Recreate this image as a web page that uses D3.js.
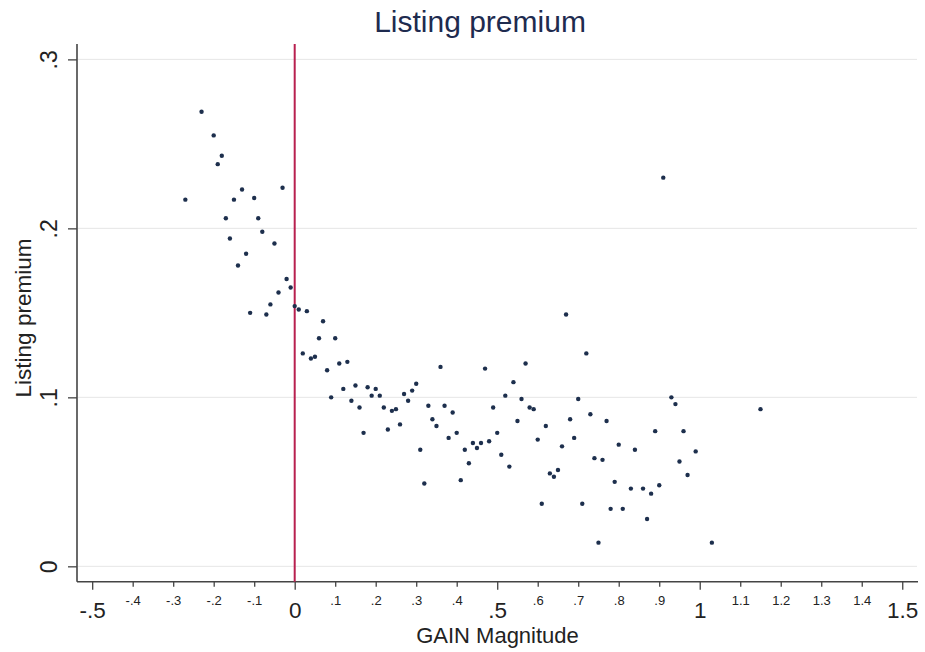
<!DOCTYPE html>
<html>
<head>
  <meta charset='utf-8'>
  <title>Listing premium</title>
  <script src='https://cdn.jsdelivr.net/npm/d3@7/dist/d3.min.js'></script>
  <style type='text/css'>
    body { margin: 0; background: #fff; }
    svg text { font-family: 'Liberation Sans', Arial, sans-serif; }
  </style>
</head>
<body>
  <div id='plot-container'></div>
  <script>
    // binned scatter values
    const gainMagnitude = [
        -0.23, -0.20, -0.18, -0.19, -0.13, -0.03, -0.27, -0.15, -0.10, -0.17,
        -0.09, -0.08, -0.16, -0.05, -0.12, -0.14, -0.02, -0.01, -0.04, -0.06,
        -0.11, -0.07, 0.00, 0.01, 0.03, 0.07, 0.06, 0.10, 0.02, 0.04,
        0.05, 0.08, 0.11, 0.13, 0.12, 0.09, 0.15, 0.14, 0.18, 0.20,
        0.19, 0.21, 0.16, 0.17, 0.22, 0.24, 0.25, 0.23, 0.26, 0.27,
        0.28, 0.29, 0.30, 0.36, 0.33, 0.37, 0.34, 0.35, 0.39, 0.38,
        0.40, 0.31, 0.32, 0.41, 0.67, 0.72, 0.47, 0.57, 0.54, 0.52,
        0.56, 0.70, 0.49, 0.58, 0.59, 0.73, 0.55, 0.68, 0.77, 0.62,
        0.50, 0.60, 0.69, 0.44, 0.46, 0.48, 0.45, 0.42, 0.66, 0.80,
        0.51, 0.43, 0.53, 0.74, 0.76, 0.63, 0.64, 0.65, 0.79, 0.61,
        0.71, 0.78, 0.91, 0.93, 0.94, 1.15, 0.89, 0.96, 0.84, 0.99,
        0.95, 0.97, 0.90, 0.83, 0.86, 0.88, 0.81, 0.87, 0.75, 1.03
    ];
    const listingPremium = [
        0.269, 0.255, 0.243, 0.238, 0.223, 0.224, 0.217, 0.217, 0.218, 0.206,
        0.206, 0.198, 0.194, 0.191, 0.185, 0.178, 0.170, 0.165, 0.162, 0.155,
        0.150, 0.149, 0.154, 0.152, 0.151, 0.145, 0.135, 0.135, 0.126, 0.123,
        0.124, 0.116, 0.120, 0.121, 0.105, 0.100, 0.107, 0.098, 0.106, 0.105,
        0.101, 0.101, 0.094, 0.079, 0.094, 0.092, 0.093, 0.081, 0.084, 0.102,
        0.098, 0.104, 0.108, 0.118, 0.095, 0.095, 0.087, 0.083, 0.091, 0.076,
        0.079, 0.069, 0.049, 0.051, 0.149, 0.126, 0.117, 0.120, 0.109, 0.101,
        0.099, 0.099, 0.094, 0.094, 0.093, 0.090, 0.086, 0.087, 0.086, 0.083,
        0.079, 0.075, 0.076, 0.073, 0.073, 0.074, 0.070, 0.069, 0.071, 0.072,
        0.066, 0.061, 0.059, 0.064, 0.063, 0.055, 0.053, 0.057, 0.050, 0.037,
        0.037, 0.034, 0.230, 0.100, 0.096, 0.093, 0.080, 0.080, 0.069, 0.068,
        0.062, 0.054, 0.048, 0.046, 0.046, 0.043, 0.034, 0.028, 0.014, 0.014
    ];
    const majorXTicks = [-0.5, 0, 0.5, 1, 1.5];
    const majorXLabels = ['-.5', '0', '.5', '1', '1.5'];
    const minorXTicks = [-0.4, -0.3, -0.2, -0.1, 0.1, 0.2, 0.3, 0.4,
        0.6, 0.7, 0.8, 0.9, 1.1, 1.2, 1.3, 1.4];
    const minorXLabels = ['-.4', '-.3', '-.2', '-.1', '.1', '.2', '.3', '.4',
        '.6', '.7', '.8', '.9', '1.1', '1.2', '1.3', '1.4'];
    const yTicks = [0, 0.1, 0.2, 0.3];
    const yLabels = ['0', '.1', '.2', '.3'];

    const width = 925;
    const height = 652;
    const plot = { left: 77, right: 918, top: 44, bottom: 581.7 };
    const inkColor = '#222';
    const axisColor = '#444';

    const svg = d3.select('#plot-container').append('svg')
        .attr('width', width)
        .attr('height', height);

    const x = d3.scaleLinear()
        .domain([-0.5375, 1.5389])
        .range([plot.left, plot.right]);
    const y = d3.scaleLinear()
        .domain([-0.0091, 0.3091])
        .range([plot.bottom, plot.top]);

    // horizontal grid lines
    svg.append('g')
        .selectAll('line')
        .data(yTicks)
        .enter()
        .append('line')
        .attr('x1', plot.left + 1)
        .attr('x2', plot.right - 1)
        .attr('y1', d => y(d))
        .attr('y2', d => y(d))
        .attr('stroke', '#e6e6e6')
        .attr('stroke-width', 1);

    // minor x axis (small labels)
    const minorAxis = svg.append('g')
        .attr('transform', `translate(0, ${plot.bottom})`)
        .call(d3.axisBottom(x)
            .tickValues(minorXTicks)
            .tickSize(5)
            .tickSizeOuter(0)
            .tickFormat((d, i) => minorXLabels[i]));
    minorAxis.select('.domain').remove();
    minorAxis.selectAll('.tick line').attr('stroke', axisColor).attr('stroke-width', 1.3);
    minorAxis.selectAll('.tick text')
        .attr('y', 23)
        .attr('dy', 0)
        .attr('fill', inkColor)
        .style('font-size', '13px');

    // major x axis
    const majorAxis = svg.append('g')
        .attr('transform', `translate(0, ${plot.bottom})`)
        .call(d3.axisBottom(x)
            .tickValues(majorXTicks)
            .tickSize(8)
            .tickSizeOuter(0)
            .tickFormat((d, i) => majorXLabels[i]));
    majorAxis.select('.domain')
        .attr('d', `M${plot.left},0H${plot.right}`)
        .attr('stroke', axisColor)
        .attr('stroke-width', 1.6);
    majorAxis.selectAll('.tick line').attr('stroke', axisColor).attr('stroke-width', 1.3);
    majorAxis.selectAll('.tick text')
        .attr('y', 36.5)
        .attr('dy', 0)
        .attr('fill', inkColor)
        .style('font-size', '22.5px');

    // y axis with rotated labels
    const yAxis = svg.append('g')
        .attr('transform', `translate(${plot.left}, 0)`)
        .call(d3.axisLeft(y)
            .tickValues(yTicks)
            .tickSize(9)
            .tickSizeOuter(0)
            .tickFormat((d, i) => yLabels[i]));
    yAxis.select('.domain')
        .attr('d', `M0,${plot.top}V${plot.bottom}`)
        .attr('stroke', axisColor)
        .attr('stroke-width', 1.6);
    yAxis.selectAll('.tick line').attr('stroke', axisColor).attr('stroke-width', 1.3);
    yAxis.selectAll('.tick text')
        .attr('x', 0)
        .attr('dy', 0)
        .attr('transform', 'translate(-20, 0) rotate(-90)')
        .attr('text-anchor', 'middle')
        .attr('fill', inkColor)
        .style('font-size', '23px');

    // reference line at zero gain
    svg.append('line')
        .attr('x1', x(0))
        .attr('x2', x(0))
        .attr('y1', plot.top)
        .attr('y2', plot.bottom)
        .attr('stroke', '#b8204f')
        .attr('stroke-width', 2);

    // scatter points
    svg.append('g')
        .selectAll('circle')
        .data(gainMagnitude.map((g, i) => ({ gain: g, premium: listingPremium[i] })))
        .enter()
        .append('circle')
        .attr('cx', d => x(d.gain))
        .attr('cy', d => y(d.premium))
        .attr('r', 2.2)
        .attr('fill', '#1d2f4d');

    // titles
    svg.append('text')
        .attr('x', 480)
        .attr('y', 31.5)
        .attr('text-anchor', 'middle')
        .attr('fill', '#1e2b4f')
        .style('font-size', '30px')
        .text('Listing premium');
    svg.append('text')
        .attr('x', (plot.left + plot.right) / 2)
        .attr('y', 643)
        .attr('text-anchor', 'middle')
        .attr('fill', inkColor)
        .style('font-size', '22px')
        .text('GAIN Magnitude');
    svg.append('text')
        .attr('transform', 'translate(31, 318) rotate(-90)')
        .attr('text-anchor', 'middle')
        .attr('fill', inkColor)
        .style('font-size', '22.5px')
        .text('Listing premium');
  </script>
</body>
</html>
